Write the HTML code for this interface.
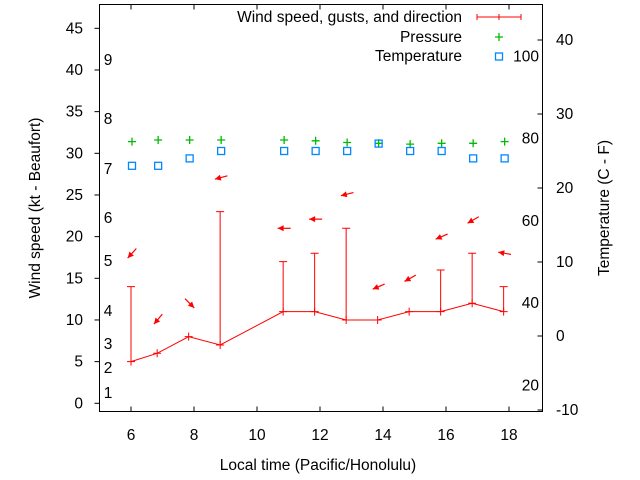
<!DOCTYPE html>
<html><head><meta charset="utf-8"><style>
body{margin:0;background:#fff}
svg{display:block;font-family:"Liberation Sans",sans-serif;font-size:15.5px}
</style></head><body>
<svg id="chart" width="640" height="480" viewBox="0 0 640 480"></svg>
<script>
const times=[6.0,6.83,7.83,8.83,10.83,11.83,12.83,13.83,14.83,15.83,16.83,17.83];
const windSpeed=[5,6,8,7,11,11,10,10,11,11,12,11];
const gusts=[14,null,null,23,17,18,21,null,null,16,18,14];
const pressure=[31.4,31.6,31.6,31.6,31.6,31.5,31.3,31.2,31.1,31.2,31.2,31.4];
const tempC=[23,23,24,25,25,25,25,26,25,25,24,24];
const arrowY=[18,10.1,12,27.1,21,22.1,25.1,14,15,20,22,18];
const arrowDir=[228,230,315,195,180,180,194,203,209,203,210,170];
const xTicks=[6,8,10,12,14,16,18];
const yTicks=[0,5,10,15,20,25,30,35,40,45];
const cTicks=[-10,0,10,20,30,40];
const fLabels=[20,40,60,80,100];
const beaufort=[[1,393],[2,368],[3,344],[4,311],[5,261],[6,218],[7,169],[8,119],[9,60]];

const L=99.5,R=542.5,T=4.5,B=411.5;
const X=v=>131+(v-6)*31.5;
const Y=v=>403.3-v*8.333;
const YC=c=>336-c*7.4;
const YF=f=>YC((f-32)*5/9);
const svg=document.getElementById('chart');
const NS='http://www.w3.org/2000/svg';
function mk(t,a,p){const e=document.createElementNS(NS,t);for(const k in a)e.setAttribute(k,a[k]);(p||svg).appendChild(e);return e;}
function txt(x,y,s,anchor){const e=mk('text',{x:x,y:y,'text-anchor':anchor||'middle',fill:'#000'});e.textContent=s;return e;}

const frame=mk('rect',{x:L,y:T,width:R-L,height:B-T,fill:'none',stroke:'#000','stroke-width':1});



xTicks.forEach(v=>{
  const x=X(v);
  const t=mk('line',{x1:x,y1:B,x2:x,y2:B-5,stroke:'#000'});
  
  
  mk('line',{x1:x,y1:T,x2:x,y2:T+5,stroke:'#000'});
  const l=txt(x,440,String(v));
  
  
});
yTicks.forEach(v=>{
  const y=Y(v);
  const t=mk('line',{x1:L-5,y1:y,x2:L,y2:y,stroke:'#000'});
  
  
  const l=txt(83,y+5,String(v),'end');
  
  
});
cTicks.forEach(v=>{
  const y=YC(v);
  const t=mk('line',{x1:R-5,y1:y,x2:R,y2:y,stroke:'#000'});
  
  
  const l=txt(556,y+5,String(v),'start');
  
  
});
fLabels.forEach(v=>{
  const l=txt(539,YF(v)+5,String(v),'end');
  
  
});
beaufort.forEach(b=>{
  const l=txt(108,b[1]+5,String(b[0]));
  
  
});

const pts=times.map((t,i)=>X(t)+','+Y(windSpeed[i])).join(' ');
const wl=mk('polyline',{points:pts,fill:'none',stroke:'#f00','stroke-width':1});


times.forEach((t,i)=>{
  const x=X(t),y=Y(windSpeed[i]);
  const p=mk('path',{d:`M${x-4} ${y}H${x+4}M${x} ${y-4}V${y+4}`,stroke:'#f00'});
  
  
  if(gusts[i]!=null){
    const g=Y(gusts[i]);
    const e=mk('path',{d:`M${x} ${y}V${g}M${x-4} ${g}H${x+4}`,stroke:'#f00'});
    
    
  }
  const a=arrowDir[i]*Math.PI/180,cx=x+1,cy=Y(arrowY[i]);
  const dx=Math.cos(a),dy=-Math.sin(a);
  const tx=cx+dx*6.5,ty=cy+dy*6.5,sx=cx-dx*6.5,sy=cy-dy*6.5;
  const px=-dy,py=dx;
  const g=mk('g',{});
  
  
  mk('line',{x1:sx,y1:sy,x2:tx,y2:ty,stroke:'#f00','stroke-width':1.2},g);
  mk('polygon',{points:`${tx},${ty} ${tx-dx*6+px*3},${ty-dy*6+py*3} ${tx-dx*6-px*3},${ty-dy*6-py*3}`,fill:'#f00'},g);
});
times.forEach((t,i)=>{
  const x=X(t)+1,y=Y(pressure[i]);
  const p=mk('path',{d:`M${x-4} ${y}H${x+4}M${x} ${y-4}V${y+4}`,stroke:'#0b0','stroke-width':1.3});
  
  
});
times.forEach((t,i)=>{
  const x=X(t)+1,y=YC(tempC[i]);
  const r=mk('rect',{x:x-3.5,y:y-3.5,width:7,height:7,fill:'none',stroke:'#08f','stroke-width':1.3});
  
  
});

const lg=mk('g',{});


const t1=txt(462,22,'Wind speed, gusts, and direction','end');lg.appendChild(t1);
mk('path',{d:'M477 17H521M477 14V20M521 14V20M499 14V20',stroke:'#f00'},lg);
const t2=txt(462,42,'Pressure','end');lg.appendChild(t2);
mk('path',{d:'M495 37H503M499 33V41',stroke:'#0b0','stroke-width':1.3},lg);
const t3=txt(462,61,'Temperature','end');lg.appendChild(t3);
mk('rect',{x:495.5,y:53,width:7,height:7,fill:'none',stroke:'#08f','stroke-width':1.3},lg);

const xl=txt(318,470,'Local time (Pacific/Honolulu)');


const yl=txt(0,0,'Wind speed (kt - Beaufort)');
yl.setAttribute('transform','translate(40,208) rotate(-90)');


const y2=txt(0,0,'Temperature (C - F)');
y2.setAttribute('transform','translate(609,208) rotate(-90)');


</script>
</body></html>
